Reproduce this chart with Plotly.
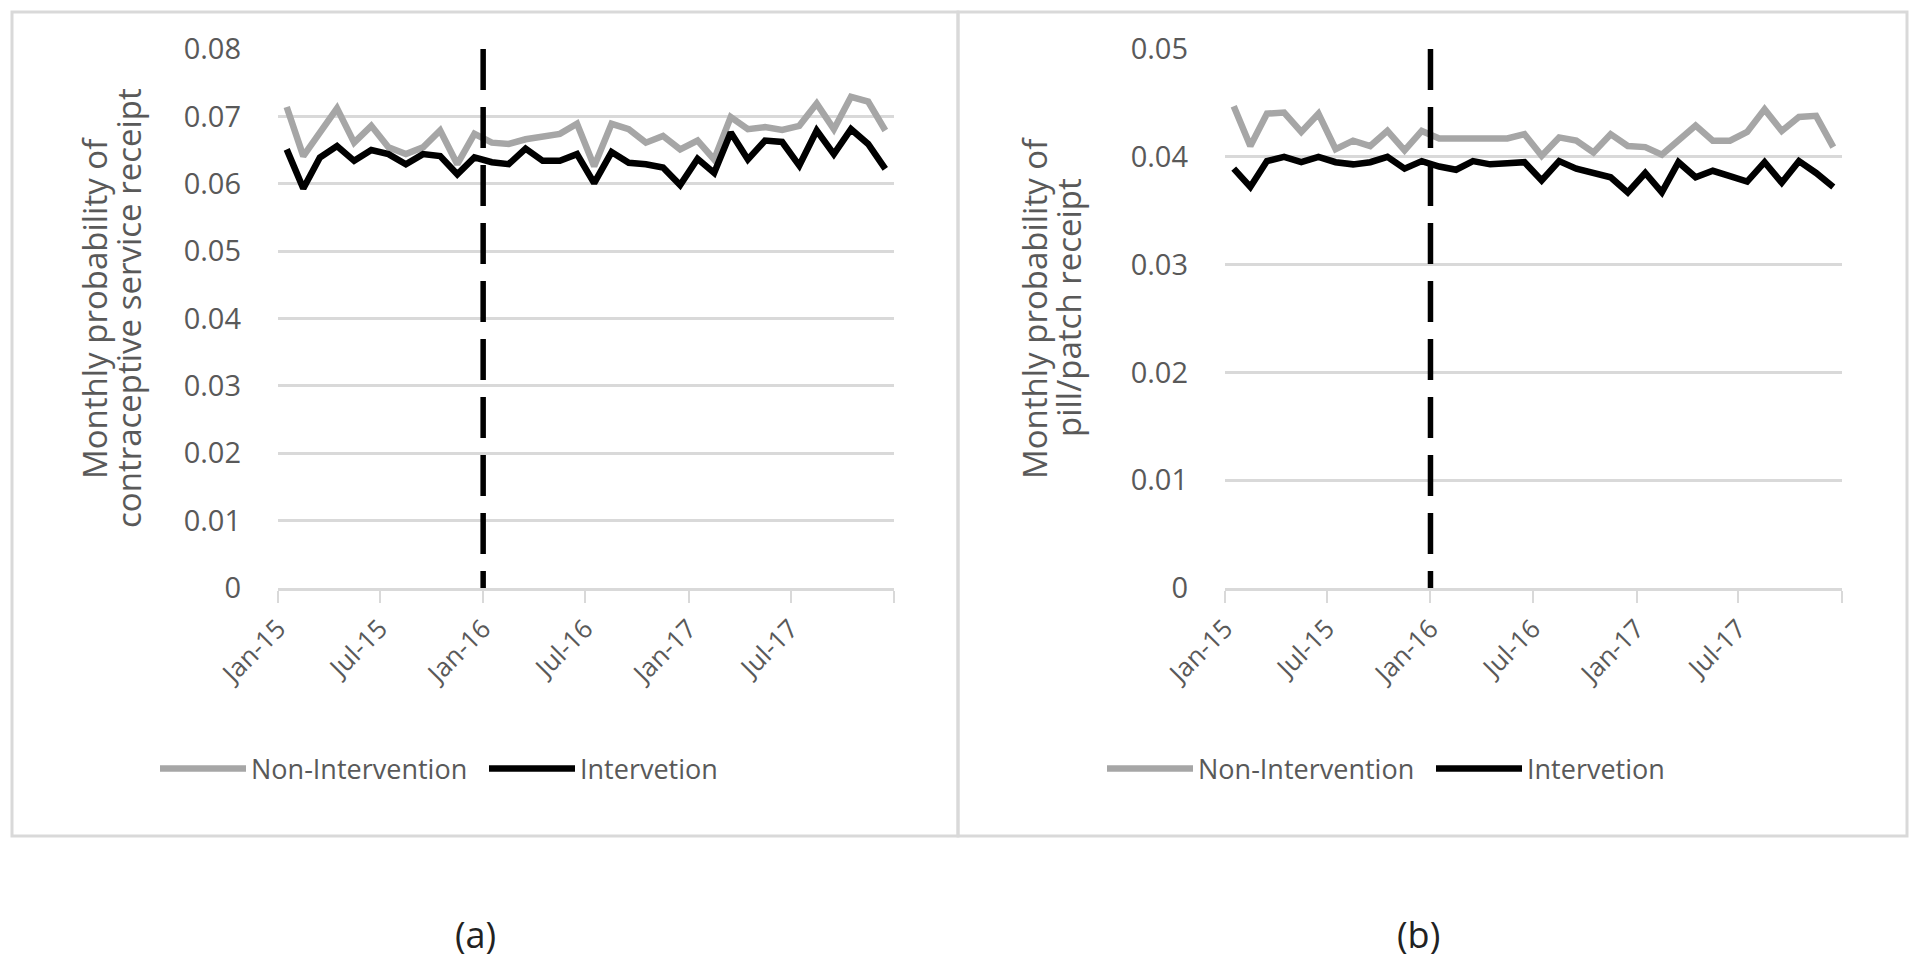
import plotly.graph_objects as go

# ---------------- data ----------------
months = [f"{y}-{m:02d}" for y in (2015, 2016, 2017) for m in range(1, 13)]

tick_vals = ["2015-01-01", "2015-07-01", "2016-01-01", "2016-07-01",
             "2017-01-01", "2017-07-01", "2018-01-01"]
tick_text = ["Jan-15", "Jul-15", "Jan-16", "Jul-16", "Jan-17", "Jul-17", ""]

intervention_start = "2016-01-01"

# (a) contraceptive service receipt
a_non_intervention = [0.0714, 0.0641, 0.0676, 0.0712, 0.0661, 0.0686, 0.0654, 0.0644,
                      0.0654, 0.0679, 0.0629, 0.0674, 0.0661, 0.0659, 0.0666, 0.0669,
                      0.0674, 0.0689, 0.0626, 0.0689, 0.0681, 0.0661, 0.0671, 0.0651,
                      0.0664, 0.0636, 0.0699, 0.0681, 0.0684, 0.0680, 0.0686, 0.0719,
                      0.0681, 0.0729, 0.0722, 0.0679]
a_intervention = [0.0651, 0.0593, 0.0639, 0.0656, 0.0634, 0.0650, 0.0644, 0.0629,
                  0.0644, 0.0641, 0.0614, 0.0639, 0.0632, 0.0629, 0.0652, 0.0634,
                  0.0634, 0.0644, 0.0601, 0.0647, 0.0631, 0.0629, 0.0624, 0.0598,
                  0.0637, 0.0616, 0.0676, 0.0636, 0.0664, 0.0662, 0.0627, 0.0679,
                  0.0644, 0.0681, 0.0659, 0.0622]

# (b) pill/patch receipt
b_non_intervention = [0.0447, 0.0410, 0.0440, 0.0441, 0.0423, 0.0440, 0.0407, 0.0415,
                      0.0410, 0.0424, 0.0406, 0.0424, 0.0417, 0.0417, 0.0417, 0.0417,
                      0.0417, 0.0421, 0.0401, 0.0418, 0.0415, 0.0404, 0.0421, 0.0410,
                      0.0409, 0.0402, 0.0416, 0.0429, 0.0415, 0.0415, 0.0423, 0.0444,
                      0.0424, 0.0437, 0.0438, 0.0409]
b_intervention = [0.0389, 0.0372, 0.0396, 0.0400, 0.0395, 0.0400, 0.0395, 0.0393,
                  0.0395, 0.0400, 0.0389, 0.0396, 0.0391, 0.0388, 0.0396, 0.0393,
                  0.0394, 0.0395, 0.0378, 0.0396, 0.0389, 0.0385, 0.0381, 0.0367,
                  0.0385, 0.0367, 0.0395, 0.0381, 0.0387, 0.0382, 0.0377, 0.0395,
                  0.0376, 0.0396, 0.0385, 0.0372]

series_names = ["Non-Intervention", "Intervetion"]
y_title_lines = [["Monthly probability of", "contraceptive service receipt"],
                 ["Monthly probability of", "pill/patch receipt"]]
panel_labels = ["(a)", "(b)"]
y_max = [0.08, 0.05]

# ---------------- styling ----------------
W, H = 1920, 960
OFF = 8  # page body margin of the html page
FONT = "Open Sans"
TXT = "#595959"
GRID = "#D9D9D9"
GRAY = "#A6A6A6"
BLACK = "#000000"


def px(x):
    return (x - OFF) / W


def py(y):
    return 1 - (y - OFF) / H


fig = go.Figure()

panels = [
    dict(xa="x", ya="y", non=a_non_intervention, itv=a_intervention, legend="legend"),
    dict(xa="x2", ya="y2", non=b_non_intervention, itv=b_intervention, legend="legend2"),
]

for p in panels:
    for name, vals, col in ((series_names[0], p["non"], GRAY),
                            (series_names[1], p["itv"], BLACK)):
        fig.add_trace(go.Scatter(
            x=months, y=vals, name=name, mode="lines",
            xperiod="M1", xperiodalignment="middle",
            line=dict(color=col, width=6.5),
            xaxis=p["xa"], yaxis=p["ya"], legend=p["legend"],
        ))

x_domains = [[px(278), px(894)], [px(1225), px(1842)]]
y_domain = [py(588), py(49)]


def xaxis_cfg(dom, anchor):
    return dict(
        domain=dom, anchor=anchor, type="date", automargin=False,
        range=["2015-01-01", "2018-01-01"],
        tickmode="array", tickvals=tick_vals, ticktext=tick_text,
        tickangle=-45, ticks="outside", ticklen=12, tickwidth=2, tickcolor=GRID,
        showline=True, linecolor=GRID, linewidth=3,
        showgrid=False, zeroline=False,
        tickfont=dict(family=FONT, size=26, color=TXT),
    )


def yaxis_cfg(anchor, ymax):
    return dict(
        domain=y_domain, anchor=anchor, range=[0, ymax], dtick=0.01, automargin=False,
        showgrid=True, gridcolor=GRID, gridwidth=3, zeroline=False,
        showline=False, ticks="", ticklabelstandoff=36,
        tickfont=dict(family=FONT, size=29, color=TXT),
    )


legend_common = dict(orientation="h", y=py(769), yanchor="middle", xanchor="left",
                     font=dict(family=FONT, size=27, color=TXT), itemwidth=86,
                     entrywidth=228, entrywidthmode="pixels",
                     bgcolor="rgba(0,0,0,0)", tracegroupgap=0)

fig.update_layout(
    width=W, height=H,
    paper_bgcolor="white", plot_bgcolor="white",
    margin=dict(l=0, r=0, t=0, b=0, autoexpand=False),
    xaxis=xaxis_cfg(x_domains[0], "y"),
    xaxis2=xaxis_cfg(x_domains[1], "y2"),
    yaxis=yaxis_cfg("x", y_max[0]),
    yaxis2=yaxis_cfg("x2", y_max[1]),
    legend=dict(x=px(155), **legend_common),
    legend2=dict(x=px(1102), **legend_common),
    showlegend=True,
)

# y-axis titles (two rotated lines each)
for lines, xs in zip(y_title_lines, ((94, 128), (1034, 1068))):
    for line, xc in zip(lines, xs):
        fig.add_annotation(text=line, xref="paper", yref="paper",
                           x=px(xc), y=py(308), textangle=-90,
                           showarrow=False, xanchor="center", yanchor="middle",
                           font=dict(family=FONT, size=33, color=TXT))

# dashed intervention lines (dash pattern starts at the top)
for xa, ya, ymax in (("x", "y", y_max[0]), ("x2", "y2", y_max[1])):
    fig.add_shape(type="line", xref=xa, yref=ya,
                  x0=intervention_start, x1=intervention_start, y0=ymax, y1=0,
                  line=dict(color=BLACK, width=5.5, dash="41px,17px"))

# panel borders
fig.add_shape(type="rect", xref="paper", yref="paper",
              x0=px(12), x1=px(958), y0=py(836), y1=py(12),
              line=dict(color=GRID, width=3))
fig.add_shape(type="rect", xref="paper", yref="paper",
              x0=px(958), x1=px(1907), y0=py(836), y1=py(12),
              line=dict(color=GRID, width=3))

# panel captions
for lab, xc in zip(panel_labels, (475, 1418)):
    fig.add_annotation(text=lab, xref="paper", yref="paper", x=px(xc), y=py(934),
                       xanchor="center", yanchor="middle",
                       showarrow=False, font=dict(family=FONT, size=36, color="#222222"))

fig.write_html("out.html")
